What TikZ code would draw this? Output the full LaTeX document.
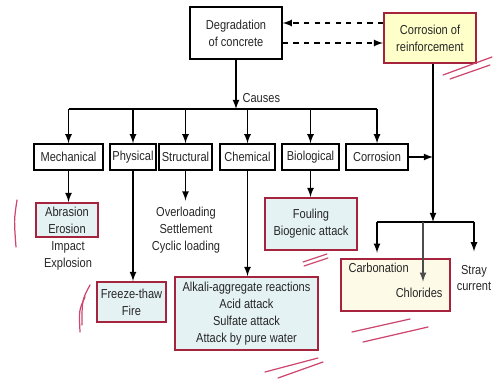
\documentclass[tikz,border=0pt]{standalone}
\usepackage{fontspec}
\setmainfont{Liberation Sans}[FakeStretch=0.85]
\definecolor{boxred}{RGB}{165,35,60}
\definecolor{lightblue}{RGB}{229,242,244}
\definecolor{paleyellow}{RGB}{255,255,202}
\definecolor{creamyellow}{RGB}{253,251,232}
\definecolor{pinkpen}{RGB}{205,70,110}
\begin{document}
\begin{tikzpicture}[x=0.02cm, y=-0.02cm, >=latex, line width=0.8pt,
    every node/.style={font=\fontsize{7.4}{9.6}\selectfont, text=black!85, align=center},
    plain/.style={rectangle, draw, fill=white, minimum height=0.52cm, inner sep=1pt},
    hilite/.style={rectangle, draw=boxred, line width=1.1pt, fill=lightblue, inner sep=1pt},
    scribble/.style={draw=pinkpen, line width=0.7pt, line cap=round}]
        \useasboundingbox (0,0) rectangle (493,379);

        % Degradation and reinforcement
        \node[plain, minimum width=1.84cm, minimum height=1.04cm] (degr) at (236,33) {Degradation\\of concrete};
        \node[hilite, fill=paleyellow, minimum width=1.84cm, minimum height=1cm] (reinf) at (430,38) {Corrosion of\\reinforcement};
        \draw[dashed, ->] (reinf.west |- 0,23) -- (degr.east |- 0,23);
        \draw[dashed, ->] (degr.east |- 0,43) -- (reinf.west |- 0,43);

        % Causes
        \coordinate (bus) at (236,109);
        \draw[->] (degr) -- (bus) node[pos=0.78, right] {Causes};
        \node[plain, minimum width=1.38cm] (mech) at (68.5,157) {Mechanical};
        \node[plain, minimum width=0.92cm] (phys) at (133,157) {Physical};
        \node[plain, minimum width=1.06cm] (struc) at (185.5,157) {Structural};
        \node[plain, minimum width=1.1cm] (chem) at (247.5,157) {Chemical};
        \node[plain, minimum width=1.14cm] (bio) at (310.5,157) {Biological};
        \node[plain, minimum width=1.24cm] (ccorr) at (377,157) {Corrosion};
        \draw (mech |- bus) -- (ccorr |- bus);
        \draw[->] (mech |- bus) -- (mech);
        \draw[->] (phys |- bus) -- (phys);
        \draw[->] (struc |- bus) -- (struc);
        \draw[->] (chem |- bus) -- (chem);
        \draw[->] (bio |- bus) -- (bio);
        \draw[->] (ccorr |- bus) -- (ccorr);

        % Mechanical
        \node[hilite, minimum width=1.24cm, minimum height=0.68cm] (abr) at (67,220) {Abrasion\\Erosion};
        \node (impact) at (68,255.5) {Impact\\Explosion};
        \draw[->] (mech) -- (mech |- abr.north);

        % Physical
        \node[hilite, minimum width=1.38cm, minimum height=0.8cm] (frz) at (131.5,302) {Freeze-thaw\\Fire};
        \draw[->] (phys) -- (phys |- frz.north);

        % Structural
        \node (over) at (186,230) {Overloading\\Settlement\\Cyclic loading};
        \draw[->] (struc) -- (struc |- over.north);

        % Chemical
        \node[hilite, minimum width=2.86cm, minimum height=1.46cm] (chemres) at (246.5,313.5) {Alkali-aggregate reactions\\Acid attack\\Sulfate attack\\Attack by pure water};
        \draw[->] (chem) -- (chem |- chemres.north);

        % Biological
        \node[hilite, minimum width=1.84cm, minimum height=1.04cm] (biores) at (311,224) {Fouling\\Biogenic attack};
        \draw[->] (bio) -- (bio |- biores.north);

        % Corrosion branch
        \coordinate (split) at (433,222);
        \coordinate (left) at (377,222);
        \coordinate (mid) at (423,222);
        \coordinate (right) at (474,222);
        \draw[->] (split |- reinf.south) -- (split);
        \draw[->] (ccorr) -- (split |- ccorr);
        \node[hilite, fill=creamyellow, minimum width=2.18cm, minimum height=1.04cm] (carbbox) at (395.5,285) {};
        \node[anchor=west] (carb) at (342,268) {Carbonation};
        \node[anchor=east] (chlor) at (449,293) {Chlorides};
        \node (stray) at (474,278) {Stray\\current};
        \draw (left) -- (right);
        \draw[->, shorten >=3pt] (left) -- (left |- carbbox.north);
        \draw[->, black!70] (mid) -- (mid |- chlor.north);
        \draw[->, shorten >=4pt] (right) -- (stray);

        % Pen marks
        \draw[scribble] (443,75) -- (492,57);
        \draw[scribble] (450,79) -- (490,65);
        \draw[scribble] (17,200) .. controls (14,220) .. (16,247);
        \draw[scribble] (90,285) .. controls (82,300) .. (82,325);
        \draw[scribble] (85,297) .. controls (79,310) .. (80,332);
        \draw[scribble] (303,262) -- (327,254);
        \draw[scribble] (304,266) -- (328,258);
        \draw[scribble] (352,332) -- (410,319);
        \draw[scribble] (363,342) -- (428,327);
        \draw[scribble] (265,372) -- (318,358);
        \draw[scribble] (278,378) -- (323,362);
\end{tikzpicture}
\end{document}
